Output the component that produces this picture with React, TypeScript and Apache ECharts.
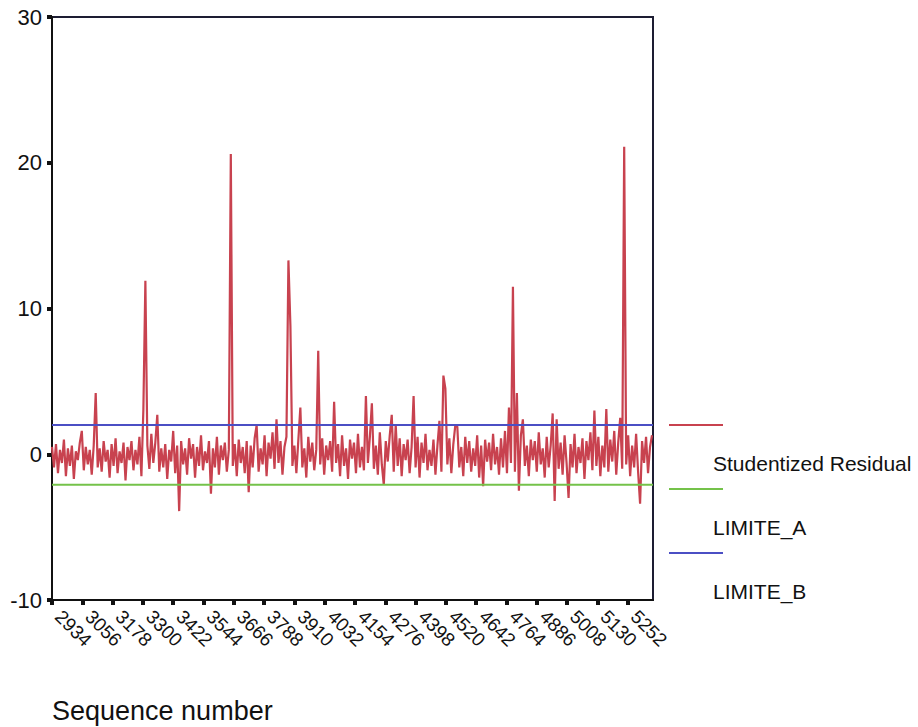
import React, { useEffect, useRef } from "react";
import * as echarts from "echarts";

// Sequence numbers: first case, spacing of sampled cases, last case on the axis
const seqStart = 2934;
const seqStep = 8;
const seqEnd = 5354;
const tickInterval = 122;

const residuals: number[] = [
  0.5, -0.9, 0.7, -1.3, 0.3, -0.6, 1.0, -1.5, 0.4, -0.8, 0.6, -1.7, 0.2, -0.4, 0.8, 1.6, -1.1, 0.5, -0.7, 0.3,
  -1.4, 0.6, 4.2, -0.9, 0.4, -1.2, 0.9, -0.5, 0.3, -1.6, 0.7, -0.8, 1.1, -1.3, 0.2, -0.6, 0.8, -1.8, 0.5, -0.4,
  0.9, -1.1, 0.3, -0.7, 1.2, -1.5, 3.1, 11.9, 0.6, -1.0, 1.4, -0.6, 0.8, 2.7, -1.2, 0.4, -0.9, 0.7, -1.7, 0.3,
  -0.5, 1.6, -1.3, 0.6, -3.9, 0.9, -0.7, 0.4, -1.4, 1.1, -0.3, 0.7, -1.6, 0.5, -0.8, 1.3, -1.1, 0.2, -0.6, 0.9,
  -2.7, 0.4, -0.9, 1.2, -1.4, 0.6, -0.4, 0.8, -1.2, 0.3, 20.6, -0.8, 0.7, -1.5, 1.0, -0.6, 0.5, -1.3, 0.9, -2.6,
  0.6, -0.9, 1.1, 2.0, -1.2, 0.4, -0.7, 1.3, -1.5, 0.8, -0.3, 1.5, -1.0, 2.4, -0.6, 0.9, -1.4, 0.5, 1.2, 13.3,
  8.8, -0.8, 0.6, -1.3, 1.0, 3.2, -0.9, 0.4, -1.6, 1.2, -0.5, 0.8, -1.1, 0.3, 7.1, -0.7, 1.1, -1.4, 0.6, -0.4,
  0.9, -1.2, 3.6, -0.6, 0.7, -1.5, 1.3, -0.8, 0.4, -1.7, 1.0, -0.3, 0.8, -1.3, 1.4, -0.9, 0.5, -1.1, 4.0, -0.6,
  1.2, 3.5, -1.0, 0.6, -1.4, 1.5, -0.7, -2.1, 0.9, -0.5, 1.3, 2.7, -1.2, 2.0, -0.8, 1.1, -1.5, 0.7, -0.4, 1.0,
  -1.3, 0.5, 4.0, -0.9, 1.2, -1.6, 0.8, -0.6, 1.4, -1.1, 0.3, -0.8, 1.0, -1.4, 0.6, 2.3, -1.2, 5.4, 4.5, -0.7,
  1.1, -1.3, 0.7, 2.0, 1.9, -0.9, 0.5, -1.5, 1.2, -0.6, 0.9, -1.2, 0.4, -0.8, 1.3, -1.6, 0.6, -2.2, 1.0, -0.5,
  0.8, -1.1, 1.4, -0.7, 0.5, -1.4, 1.1, -0.9, 1.6, -1.3, 3.2, -0.6, 11.5, -1.2, 4.2, -2.5, 1.3, 2.4, -0.8, 0.6,
  -1.5, 1.0, -0.4, 0.9, -1.2, 1.5, -0.7, 0.4, -1.6, 1.2, -0.9, 0.6, 2.8, -3.2, 2.4, -1.0, 0.8, -1.4, 1.3, -0.6,
  -3.0, 0.7, -0.9, 1.4, -1.3, 0.5, -0.6, 1.1, -1.7, 0.9, -0.4, 1.5, -1.1, 3.0, -0.8, 1.2, -1.5, 0.6, -0.9, 3.1,
  -1.2, 1.0, -0.5, 1.6, -1.4, 0.8, 2.5, -1.0, 21.1, -0.7, 1.3, -1.5, 0.6, -0.9, 1.4, -1.2, -3.4, 0.9, -0.6, 1.2,
  -1.3, 0.5, 1.3,
];

const limiteA = -2.1;
const limiteB = 2.0;

const seriesNames = ["Studentized Residual", "LIMITE_A", "LIMITE_B"];
const seriesColors = ["#c8424f", "#74c24a", "#4b4fc4"];

const yMin = -10;
const yMax = 30;
const yInterval = 10;

const FONT = "'Liberation Sans', Arial, sans-serif";

export default function App() {
  const ref = useRef<HTMLDivElement>(null);

  useEffect(() => {
    if (!ref.current) return;
    const chart = echarts.init(ref.current, null, { renderer: "svg" });

    const residualData = residuals.map((v, i) => [seqStart + i * seqStep, v]);
    const limitAData = [[seqStart, limiteA], [seqEnd, limiteA]];
    const limitBData = [[seqStart, limiteB], [seqEnd, limiteB]];

    const legendYs = [425, 489, 553];
    const legendGraphics: any[] = [];
    seriesNames.forEach((name, i) => {
      legendGraphics.push({
        type: "line",
        shape: { x1: 669, y1: legendYs[i], x2: 723, y2: legendYs[i] },
        style: { stroke: seriesColors[i], lineWidth: 2 },
      });
      legendGraphics.push({
        type: "text",
        left: 713,
        top: legendYs[i] + 28,
        style: { text: name, fill: "#111", font: `21px ${FONT}` },
      });
    });

    chart.setOption({
      animation: false,
      backgroundColor: "#ffffff",
      grid: {
        left: 52,
        top: 17,
        right: 265,
        bottom: 127,
        show: true,
        borderColor: "#1d1d33",
        borderWidth: 2,
        backgroundColor: "transparent",
      },
      xAxis: {
        type: "value",
        min: seqStart,
        max: seqEnd,
        interval: tickInterval,
        splitLine: { show: false },
        axisLine: { show: true, onZero: false, lineStyle: { color: "#111", width: 2 } },
        axisTick: { show: true, length: 5, lineStyle: { color: "#111", width: 4 } },
        axisLabel: {
          rotate: -45,
          margin: 7,
          padding: [0, 0, 0, 9],
          fontSize: 19,
          fontFamily: FONT,
          color: "#111",
          showMaxLabel: false,
          showMinLabel: true,
          hideOverlap: false,
          formatter: (v: number) => String(Math.round(v)),
        },
      },
      yAxis: {
        type: "value",
        min: yMin,
        max: yMax,
        interval: yInterval,
        splitLine: { show: false },
        axisLine: { show: true, onZero: false, lineStyle: { color: "#111", width: 2 } },
        axisTick: { show: true, length: 5, lineStyle: { color: "#111", width: 4 } },
        axisLabel: { fontSize: 22, fontFamily: FONT, color: "#111", margin: 10 },
      },
      series: [
        {
          name: seriesNames[0],
          type: "line",
          data: residualData,
          showSymbol: false,
          lineStyle: { color: seriesColors[0], width: 2.2 },
          z: 2,
        },
        {
          name: seriesNames[1],
          type: "line",
          data: limitAData,
          showSymbol: false,
          lineStyle: { color: seriesColors[1], width: 2 },
          z: 3,
        },
        {
          name: seriesNames[2],
          type: "line",
          data: limitBData,
          showSymbol: false,
          lineStyle: { color: seriesColors[2], width: 2 },
          z: 3,
        },
      ],
      graphic: [
        ...legendGraphics,
        {
          type: "text",
          left: 52,
          top: 697,
          style: { text: "Sequence number", fill: "#111", font: `27px ${FONT}` },
        },
      ],
    });

    return () => chart.dispose();
  }, []);

  return <div ref={ref} style={{ width: 918, height: 727, position: "absolute", left: 0, top: 0 }} />;
}
